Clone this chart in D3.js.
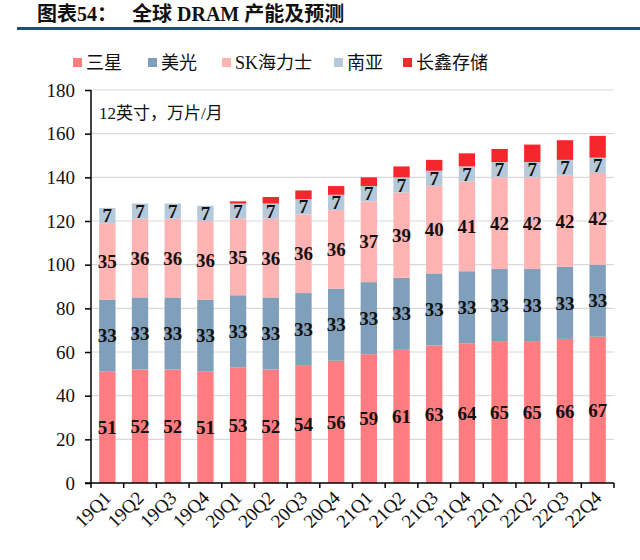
<!DOCTYPE html>
<html>
<head>
<meta charset="utf-8">
<script src="https://cdn.jsdelivr.net/npm/d3@7"></script>
<style>
  body { margin: 0; background: #fff; }
  svg text { font-family: "Liberation Serif", "Noto Sans CJK SC", serif; }
</style>
</head>
<body>
<div id="chart"></div>
<script>
const quarters = ["19Q1","19Q2","19Q3","19Q4","20Q1","20Q2","20Q3","20Q4",
                  "21Q1","21Q2","21Q3","21Q4","22Q1","22Q2","22Q3","22Q4"];
const samsung = [51,52,52,51,53,52,54,56,59,61,63,64,65,65,66,67];
const micron  = [33,33,33,33,33,33,33,33,33,33,33,33,33,33,33,33];
const hynix   = [35,36,36,36,35,36,36,36,37,39,40,41,42,42,42,42];
const nanya   = [7,7,7,7,7,7,7,7,7,7,7,7,7,7,7,7];
const cxmt    = [0,0,0,0,1,3,4,4,4,5,5,6,6,8,9,10];
const seriesNames = ["三星","美光","SK海力士","南亚","长鑫存储"];
const seriesColors = ["#ff7c80","#7f9fba","#ffb3b3","#b6c9da","#f5272c"];
const yTicks = [0,20,40,60,80,100,120,140,160,180];

const width = 640, height = 560;
const margin = { top: 90, right: 26, bottom: 77, left: 91 };
const innerW = width - margin.left - margin.right;
const innerH = height - margin.top - margin.bottom;

const svg = d3.select("#chart").append("svg")
    .attr("width", width)
    .attr("height", height);

// title + rule
svg.append("text")
    .attr("x", 37).attr("y", 21)
    .attr("font-size", 20).attr("font-weight", "bold")
    .attr("fill", "#111")
    .attr("xml:space", "preserve")
    .text("图表54：   全球 DRAM 产能及预测");
svg.append("line")
    .attr("x1", 17).attr("x2", 640)
    .attr("y1", 28.5).attr("y2", 28.5)
    .attr("stroke", "#1f4e79").attr("stroke-width", 3);

const rows = quarters.map((q, i) => ({
    q: q, s0: samsung[i], s1: micron[i], s2: hynix[i], s3: nanya[i], s4: cxmt[i]
}));
const keys = ["s0","s1","s2","s3","s4"];
const stacked = d3.stack().keys(keys)(rows);

const x = d3.scaleBand().domain(quarters).range([0, innerW]).paddingInner(0.5).paddingOuter(0.25);
const y = d3.scaleLinear().domain([0, 180]).range([innerH, 0]);

const g = svg.append("g").attr("transform", `translate(${margin.left},${margin.top})`);

// gridlines
g.selectAll(".grid").data(yTicks.slice(1))
    .enter().append("line")
    .attr("x1", 0).attr("x2", innerW)
    .attr("y1", d => y(d)).attr("y2", d => y(d))
    .attr("stroke", "#d9d9d9").attr("stroke-width", 1.2);

// bars
const layer = g.selectAll(".layer").data(stacked)
    .enter().append("g")
    .attr("fill", (d, i) => seriesColors[i]);
layer.selectAll("rect").data(d => d)
    .enter().append("rect")
    .attr("x", d => x(d.data.q))
    .attr("width", x.bandwidth())
    .attr("y", d => y(d[1]))
    .attr("height", d => y(d[0]) - y(d[1]));

// value labels (all but 长鑫存储)
stacked.slice(0, 4).forEach(s => {
    g.selectAll(null).data(s)
        .enter().append("text")
        .attr("x", d => x(d.data.q) + x.bandwidth() / 2)
        .attr("y", d => y((d[0] + d[1]) / 2))
        .attr("dy", "0.35em")
        .attr("text-anchor", "middle")
        .attr("font-size", 19).attr("font-weight", "bold")
        .attr("fill", "#111")
        .text(d => d[1] - d[0]);
});

// y axis
const yAxis = g.append("g")
    .call(d3.axisLeft(y).tickValues(yTicks).tickSize(6).tickPadding(10));
yAxis.select(".domain").attr("stroke", "#000").attr("stroke-width", 1.5).attr("d", `M0,${innerH}V0`);
yAxis.selectAll(".tick line").attr("stroke", "#000").attr("stroke-width", 1.5);
yAxis.selectAll("text").attr("font-size", 19).attr("fill", "#111")
    .style("font-family", "Liberation Serif");

// x axis with ticks on band boundaries
const xAxis = g.append("g").attr("transform", `translate(0,${innerH})`);
xAxis.append("line").attr("x1", -6).attr("x2", innerW)
    .attr("stroke", "#000").attr("stroke-width", 1.5);
xAxis.selectAll(".xt").data(d3.range(quarters.length + 1))
    .enter().append("line")
    .attr("x1", i => i * innerW / quarters.length)
    .attr("x2", i => i * innerW / quarters.length)
    .attr("y1", 0).attr("y2", 5)
    .attr("stroke", "#000").attr("stroke-width", 1.5);
xAxis.selectAll(".xl").data(quarters)
    .enter().append("text")
    .attr("transform", d => `translate(${x(d) + x.bandwidth() / 2 + 5},${16}) rotate(-45)`)
    .attr("text-anchor", "end")
    .attr("font-size", 19).attr("fill", "#111")
    .text(d => d);

// unit
g.append("text")
    .attr("x", 8).attr("y", 29)
    .attr("font-size", 17).attr("fill", "#111")
    .text("12英寸，万片/月");

// legend
const legendX = [73, 148, 222, 334, 403];
const legend = svg.selectAll(".lg").data(seriesNames)
    .enter().append("g")
    .attr("transform", (d, i) => `translate(${legendX[i]},63)`);
legend.append("rect")
    .attr("x", 0).attr("y", -5).attr("width", 9).attr("height", 9)
    .attr("fill", (d, i) => seriesColors[i]);
legend.append("text")
    .attr("x", 13).attr("y", 0).attr("dy", "0.35em")
    .attr("font-size", 18).attr("fill", "#111")
    .text(d => d);
</script>
</body>
</html>
